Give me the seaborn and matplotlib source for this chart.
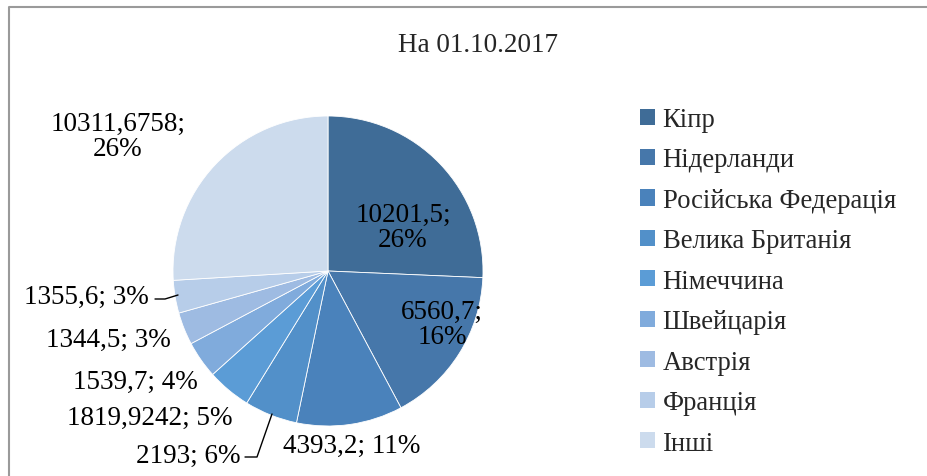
import matplotlib
matplotlib.use("Agg")
import matplotlib.pyplot as plt
import seaborn as sns
from matplotlib.patches import Patch
from matplotlib.lines import Line2D

# Data
countries = ["Кіпр", "Нідерланди", "Російська Федерація", "Велика Британія",
             "Німеччина", "Швейцарія", "Австрія", "Франція", "Інші"]
values = [10201.5, 6560.7, 4393.2, 2193, 1819.9242, 1539.7, 1344.5, 1355.6, 10311.6758]
value_labels = ["10201,5", "6560,7", "4393,2", "2193", "1819,9242",
                "1539,7", "1344,5", "1355,6", "10311,6758"]
percents = [26, 16, 11, 6, 5, 4, 3, 3, 26]
title = "На 01.10.2017"

colors = ["#3F6C97", "#4677AA", "#4A82BB", "#5290C9", "#5B9CD6",
          "#80ABDC", "#9EBBE2", "#B7CDE9", "#CCDBED"]

sns.set_theme(style="white")
plt.rcParams['font.family'] = ['Liberation Serif', 'DejaVu Serif']

W, H = 927, 477
fig = plt.figure(figsize=(W / 100, H / 100), dpi=100)
ax = fig.add_axes([0, 0, 1, 1])

cx, cy, r = 328, H - 272, 155
wedges, _ = ax.pie(values, colors=colors, startangle=90, counterclock=False,
                   center=(cx, cy), radius=r,
                   wedgeprops=dict(edgecolor="white", linewidth=0.6))
ax.set_xlim(0, W)
ax.set_ylim(0, H)
ax.set_aspect("auto")
ax.axis("off")

# label text positions (pixel coords from top-left)
label_pos = [(403, 228), (442, 325), (352, 446), (188, 456), (150, 418),
             (135, 382), (108, 340), (86, 297), (118, 137)]
two_line = {0, 1, 8}
for i, (px, py) in enumerate(label_pos):
    sep = ";\n" if i in two_line else "; "
    ax.text(px, H - py, f"{value_labels[i]}{sep}{percents[i]}%", ha="center",
            va="center", fontsize=19.5, color="black", linespacing=1.05)

# leader lines
ax.add_line(Line2D([245, 257, 272], [H - 458, H - 458, H - 415], color="black", lw=1))
ax.add_line(Line2D([155, 165, 178], [H - 300, H - 300, H - 296], color="black", lw=1))

ax.text(478, H - 46, title, ha="center", va="center", fontsize=19.5)

# legend
handles = [Patch(facecolor=c, edgecolor="none") for c in colors]
fig.legend(handles, countries, loc="upper left", bbox_to_anchor=(640 / W, 1 - 108 / H),
           frameon=False, fontsize=19.2, handlelength=0.55, handleheight=0.55,
           handletextpad=0.3, labelspacing=0.58, borderpad=0, borderaxespad=0)

# chart border (left and top only visible)
ax.add_line(Line2D([9.5, 9.5, W], [0, H - 7.5, H - 7.5], color="#9A9A9A", lw=1.5))

fig.savefig("out.png", dpi=100)
